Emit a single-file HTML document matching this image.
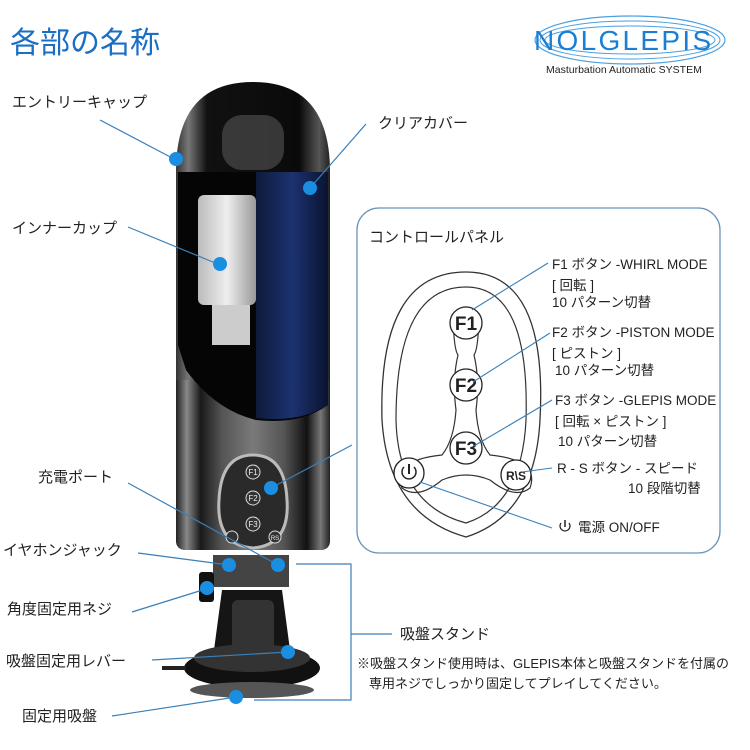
<!DOCTYPE html>
<html><head><meta charset="utf-8"><style>
html,body{margin:0;padding:0;background:#fff}
svg{display:block}
text{font-family:"Liberation Sans","Noto Sans CJK JP",sans-serif;fill:#222}
</style></head><body>
<svg width="750" height="750" viewBox="0 0 750 750" xmlns="http://www.w3.org/2000/svg">
<defs>
<linearGradient id="body" x1="0" x2="1">
<stop offset="0" stop-color="#333"/><stop offset="0.08" stop-color="#777"/><stop offset="0.2" stop-color="#111"/><stop offset="0.8" stop-color="#0a0a0a"/><stop offset="0.93" stop-color="#555"/><stop offset="1" stop-color="#222"/>
</linearGradient>
<linearGradient id="low" x1="0" x2="1">
<stop offset="0" stop-color="#222"/><stop offset="0.07" stop-color="#888"/><stop offset="0.16" stop-color="#1a1a1a"/><stop offset="0.3" stop-color="#555"/><stop offset="0.5" stop-color="#7a7a7a"/><stop offset="0.7" stop-color="#555"/><stop offset="0.85" stop-color="#111"/><stop offset="0.94" stop-color="#777"/><stop offset="1" stop-color="#222"/>
</linearGradient>
<linearGradient id="blue" x1="0" x2="1">
<stop offset="0" stop-color="#0d1a3a"/><stop offset="0.5" stop-color="#1c3270"/><stop offset="1" stop-color="#0a1430"/>
</linearGradient>
<linearGradient id="cup" x1="0" x2="1">
<stop offset="0" stop-color="#bbb"/><stop offset="0.5" stop-color="#eee"/><stop offset="1" stop-color="#999"/>
</linearGradient>
</defs>

<text x="10" y="53" font-size="30" style="fill:#1a6fc4">各部の名称</text>
<ellipse cx="630" cy="40" rx="95" ry="24" fill="none" stroke="#4aa0e0" stroke-width="1.2"/>
<ellipse cx="630" cy="40" rx="90" ry="19" fill="none" stroke="#4aa0e0" stroke-width="1"/>
<ellipse cx="630" cy="40" rx="85" ry="14" fill="none" stroke="#4aa0e0" stroke-width="1"/>
<text x="534" y="50" font-size="28" letter-spacing="2.3" style="fill:#1a7fd4">NOLGLEPIS</text>
<text x="546" y="73" font-size="10.5" style="fill:#222">Masturbation Automatic SYSTEM</text>

<path d="M176 172 Q176 82 253 82 Q330 82 330 172 L330 540 Q330 550 320 550 L186 550 Q176 550 176 540 Z" fill="url(#body)"/>
<rect x="222" y="115" width="62" height="55" rx="20" fill="#555" opacity="0.6"/>
<path d="M176 380 L330 380 L330 540 Q330 550 320 550 L186 550 Q176 550 176 540 Z" fill="url(#low)"/>
<path d="M178 172 L328 172 L328 405 Q300 425 256 420 Q215 410 186 370 L178 345 Z" fill="#050505"/>
<path d="M256 172 L328 172 L328 405 Q300 423 256 418 Z" fill="url(#blue)"/>
<rect x="198" y="195" width="58" height="110" rx="6" fill="url(#cup)"/>
<rect x="212" y="305" width="38" height="40" fill="#ccc"/>
<path d="M253 455 Q285 455 287 500 Q290 545 253 548 Q216 545 219 500 Q221 455 253 455 Z" fill="#2a2a2a" stroke="#bbb" stroke-width="3"/>
<g font-size="8" text-anchor="middle" style="fill:#eee">
<circle cx="253" cy="472" r="7" fill="#333" stroke="#ddd"/><text x="253" y="475" style="fill:#eee">F1</text>
<circle cx="253" cy="498" r="7" fill="#333" stroke="#ddd"/><text x="253" y="501" style="fill:#eee">F2</text>
<circle cx="253" cy="524" r="7" fill="#333" stroke="#ddd"/><text x="253" y="527" style="fill:#eee">F3</text>
<circle cx="232" cy="537" r="6" fill="#333" stroke="#ddd"/>
<circle cx="275" cy="537" r="6" fill="#333" stroke="#ddd"/><text x="275" y="540" font-size="6" style="fill:#eee">RS</text>
</g>
<rect x="213" y="555" width="76" height="32" fill="#444"/>
<rect x="199" y="572" width="15" height="30" rx="3" fill="#111"/>
<path d="M222 590 L282 590 L290 650 L214 650 Z" fill="#151515"/>
<rect x="232" y="600" width="42" height="50" rx="6" fill="#333"/>
<ellipse cx="252" cy="668" rx="68" ry="20" fill="#111"/>
<ellipse cx="252" cy="658" rx="58" ry="14" fill="#333"/>
<ellipse cx="252" cy="690" rx="62" ry="8" fill="#555"/>
<rect x="162" y="666" width="24" height="4" fill="#222"/>

<g stroke="#3a7fb8" stroke-width="1.2" fill="none">
<line x1="100" y1="120" x2="176" y2="160"/>
<line x1="366" y1="124" x2="310" y2="188"/>
<line x1="128" y1="227" x2="220" y2="265"/>
<line x1="128" y1="483" x2="278" y2="565"/>
<line x1="138" y1="553" x2="229" y2="565"/>
<line x1="132" y1="612" x2="209" y2="588"/>
<line x1="152" y1="660" x2="288" y2="652"/>
<line x1="112" y1="716" x2="236" y2="697"/>
<line x1="352" y1="445" x2="271" y2="488"/>
<polyline points="296,564 351,564 351,700 254,700"/>
<line x1="351" y1="634" x2="392" y2="634"/>
</g>
<g fill="#1a8ee0">
<circle cx="176" cy="159" r="7"/><circle cx="310" cy="188" r="7"/><circle cx="220" cy="264" r="7"/>
<circle cx="271" cy="488" r="7"/><circle cx="229" cy="565" r="7"/><circle cx="278" cy="565" r="7"/>
<circle cx="207" cy="588" r="7"/><circle cx="288" cy="652" r="7"/><circle cx="236" cy="697" r="7"/>
</g>

<g font-size="15">
<text x="12" y="107">エントリーキャップ</text>
<text x="378" y="128">クリアカバー</text>
<text x="12" y="233">インナーカップ</text>
<text x="38" y="482">充電ポート</text>
<text x="3" y="555">イヤホンジャック</text>
<text x="7" y="614">角度固定用ネジ</text>
<text x="6" y="666">吸盤固定用レバー</text>
<text x="22" y="721">固定用吸盤</text>
<text x="400" y="639">吸盤スタンド</text>
</g>
<g font-size="13">
<text x="357" y="668">※吸盤スタンド使用時は、GLEPIS本体と吸盤スタンドを付属の</text>
<text x="369" y="688">専用ネジでしっかり固定してプレイしてください。</text>
</g>

<rect x="357" y="208" width="363" height="345" rx="22" fill="none" stroke="#6a93b8" stroke-width="1.3"/>
<text x="369" y="242" font-size="15">コントロールパネル</text>
<path d="M466 272 Q548 272 540 420 Q535 515 466 537 Q388 515 382 420 Q378 272 466 272 Z" fill="none" stroke="#333" stroke-width="1.3"/>
<path d="M466 287 Q530 287 526 420 Q522 505 466 523 Q398 505 396 420 Q396 287 466 287 Z" fill="none" stroke="#333" stroke-width="1.2"/>
<path d="M453 318 Q466 296 479 318 Q478 350 474 355 Q480 380 476 410 Q478 440 490 455 Q540 460 530 488 Q515 500 490 480 Q466 470 442 480 Q418 500 402 488 Q392 460 442 455 Q454 440 456 410 Q452 380 458 355 Q454 350 453 318 Z" fill="none" stroke="#333" stroke-width="1.2"/>
<g fill="#fff" stroke="#222" stroke-width="1.3">
<circle cx="466" cy="323" r="16"/><circle cx="466" cy="385" r="16"/><circle cx="466" cy="448" r="16"/>
<circle cx="409" cy="473" r="15"/><circle cx="516" cy="475" r="15"/>
</g>
<g font-size="19" text-anchor="middle" font-weight="bold">
<text x="466" y="330">F1</text><text x="466" y="392">F2</text><text x="466" y="455">F3</text>
<text x="516" y="480" font-size="12">R\S</text>
</g>
<line x1="409" y1="464" x2="409" y2="474" stroke="#222" stroke-width="2"/>
<path d="M404 467 A7 7 0 1 0 414 467" fill="none" stroke="#222" stroke-width="1.5"/>
<g stroke="#3a7fb8" stroke-width="1.1" fill="none">
<line x1="548" y1="263" x2="472" y2="310"/>
<line x1="550" y1="333" x2="473" y2="382"/>
<line x1="552" y1="400" x2="474" y2="446"/>
<line x1="552" y1="468" x2="522" y2="472"/>
<line x1="420" y1="482" x2="552" y2="528"/>
</g>
<g font-size="13.5">
<text x="552" y="269">F1 ボタン -WHIRL MODE</text>
<text x="552" y="290">[ 回転 ]</text>
<text x="552" y="307">10 パターン切替</text>
<text x="552" y="337">F2 ボタン -PISTON MODE</text>
<text x="552" y="358">[ ピストン ]</text>
<text x="555" y="375">10 パターン切替</text>
<text x="555" y="405">F3 ボタン -GLEPIS MODE</text>
<text x="555" y="426">[ 回転 × ピストン ]</text>
<text x="558" y="446">10 パターン切替</text>
<text x="557" y="473">R - S ボタン - スピード</text>
<text x="628" y="493">10 段階切替</text>
<text x="578" y="532">電源 ON/OFF</text>
</g>
<line x1="565" y1="520" x2="565" y2="527" stroke="#222" stroke-width="1.5"/>
<path d="M561 523 A5 5 0 1 0 569 523" fill="none" stroke="#222" stroke-width="1.3"/>
</svg>
</body></html>
